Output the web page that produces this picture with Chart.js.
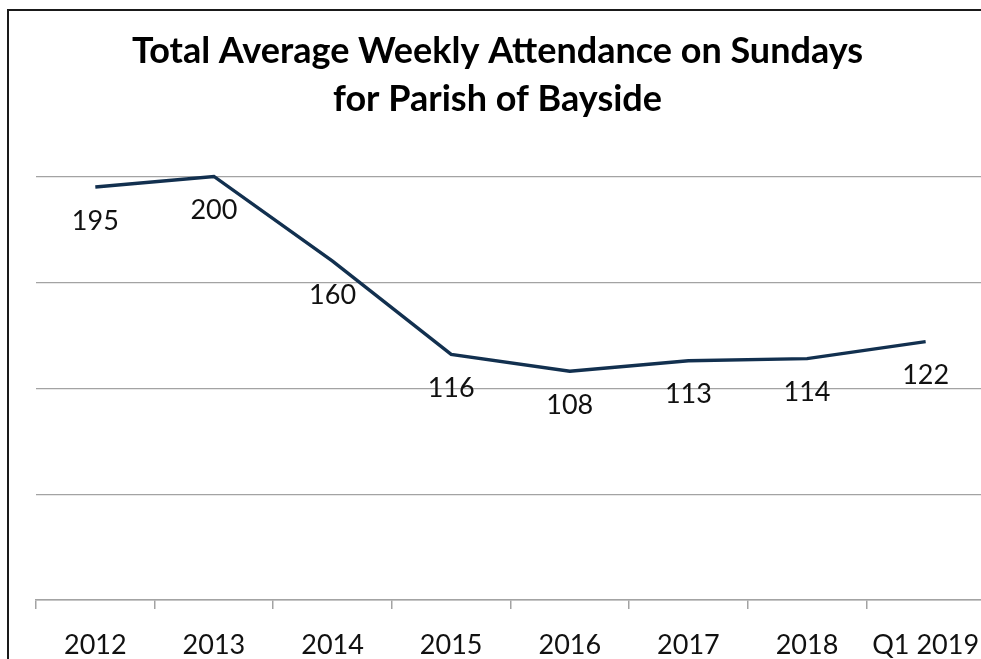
<!DOCTYPE html>
<html>
<head>
<meta charset="utf-8">
<script src="https://cdn.jsdelivr.net/npm/chart.js@4/dist/chart.umd.min.js"></script>
<style>
html, body { margin: 0; padding: 0; background: #fff; overflow: hidden; width: 981px; height: 659px; }
#frame { position: absolute; left: 7px; top: 9px; width: 1100px; height: 800px; border-left: 2px solid #1a1a1a; border-top: 2px solid #1a1a1a; }
#chart { position: absolute; left: 10px; top: 0; }
</style>
</head>
<body>
<div id="frame"></div>
<canvas id="chart" width="990" height="659"></canvas>
<script>
// данные графика
const years = ['2012', '2013', '2014', '2015', '2016', '2017', '2018', 'Q1 2019'];
const attendance = [195, 200, 160, 116, 108, 113, 114, 122];
const titleLines = ['Total Average Weekly Attendance on Sundays', 'for Parish of Bayside'];

const FONT = 'Lato';
const GRID = '#a3a3a3';

// подписи значений под точками
const valueLabels = {
    id: 'valueLabels',
    afterDatasetsDraw(chart) {
        const ctx = chart.ctx;
        const meta = chart.getDatasetMeta(0);
        ctx.save();
        ctx.font = '27px ' + FONT;
        ctx.fillStyle = '#111';
        ctx.textAlign = 'center';
        ctx.textBaseline = 'middle';
        meta.data.forEach((pt, i) => {
            ctx.fillText(String(attendance[i]), pt.x, pt.y + 34);
        });
        ctx.restore();
    }
};

const ctx = document.getElementById('chart').getContext('2d');
const myChart = new Chart(ctx, {
    type: 'line',
    data: {
        labels: years,
        datasets: [{
            label: 'Attendance',
            data: attendance,
            borderColor: '#12304f',
            borderWidth: 3.4,
            pointRadius: 0,
            tension: 0,
            fill: false,
            clip: false
        }]
    },
    options: {
        responsive: false,
        animation: false,
        layout: { padding: { left: 0, right: 15, top: 0, bottom: 0 } },
        plugins: {
            legend: { display: false },
            tooltip: { enabled: false },
            title: {
                display: true,
                text: titleLines,
                color: '#000',
                font: { family: FONT, size: 36, weight: 'bold', lineHeight: 1.34 },
                padding: { top: 27, bottom: 53 }
            }
        },
        scales: {
            x: {
                offset: true,
                afterFit: (scale) => { scale.height = 59; },
                grid: {
                    offset: true,
                    drawOnChartArea: false,
                    drawTicks: true,
                    tickLength: 9,
                    color: GRID,
                    lineWidth: 1.5
                },
                border: { display: true, color: GRID, width: 1.5 },
                ticks: {
                    color: '#111',
                    font: { family: FONT, size: 27 },
                    padding: 20,
                    maxRotation: 0,
                    autoSkip: false
                }
            },
            y: {
                min: 0,
                max: 200,
                afterFit: (scale) => { scale.width = 26; },
                grid: { color: GRID, lineWidth: 1.2, drawTicks: false },
                border: { display: false },
                ticks: { display: false, stepSize: 50 }
            }
        }
    },
    plugins: [valueLabels]
});
</script>
</body>
</html>
